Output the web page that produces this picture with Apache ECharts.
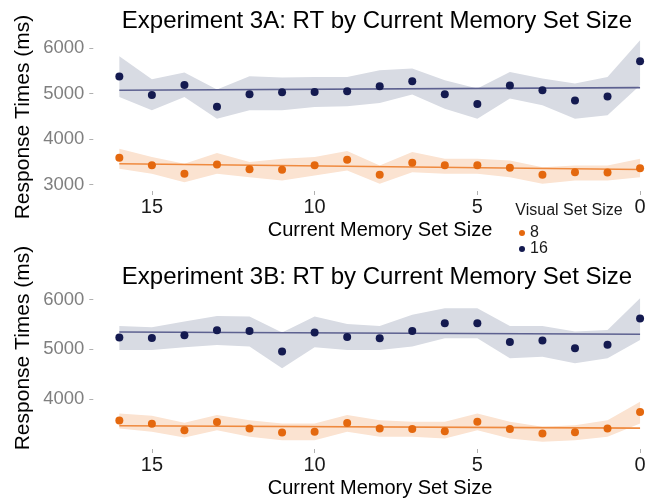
<!DOCTYPE html>
<html>
<head>
<meta charset="utf-8">
<script src="https://cdn.jsdelivr.net/npm/echarts@6/dist/echarts.min.js"></script>
<style>
html,body{margin:0;padding:0;background:#fff;}
#c{width:657px;height:498px;}
</style>
</head>
<body>
<div id="c"></div>
<script>
// Current memory set size (x)
const xs = [16,15,14,13,12,11,10,9,8,7,6,5,4,3,2,1,0];
const xTicks = [0,5,10,15];
const yTicksA = [3000,4000,5000,6000];
const yTicksB = [4000,5000,6000];

// Experiment 3A
const a16   = [5375,4971,5191,4713,4985,5029,5037,5051,5162,5272,4985,4772,5176,5074,4846,4934,5713];
const a16Lo = [4926,4632,4926,4449,4632,4632,4706,4720,4794,4978,4669,4449,4890,4743,4449,4522,5184];
const a16Hi = [5824,5316,5463,5088,5382,5353,5368,5368,5515,5551,5294,5110,5478,5331,5220,5368,6176];
const a16Fit = [5074,5132];
const a8   = [3588,3426,3235,3441,3338,3324,3426,3544,3213,3478,3426,3426,3368,3213,3272,3265,3360];
const a8Lo = [3346,3235,3051,3235,3162,3088,3199,3309,3015,3272,3235,3235,3162,3015,3088,3088,3162];
const a8Hi = [3787,3603,3456,3691,3493,3566,3603,3735,3419,3713,3566,3566,3529,3382,3419,3419,3566];
const a8Fit = [3456,3331];

// Experiment 3B
const b16   = [5236,5229,5283,5384,5370,4953,5337,5249,5222,5370,5525,5525,5148,5175,5020,5094,5620];
const b16Lo = [4987,4987,5040,5088,5054,4616,5040,4987,4987,5054,5222,5222,4818,4852,4717,4818,5189];
const b16Hi = [5471,5444,5559,5673,5660,5337,5660,5512,5471,5694,5828,5828,5471,5471,5357,5391,6030];
const b16Fit = [5350,5303];
const b8   = [3566,3498,3370,3532,3404,3323,3337,3512,3404,3391,3350,3539,3391,3303,3330,3404,3734];
const b8Lo = [3404,3337,3222,3370,3236,3168,3168,3337,3236,3236,3202,3370,3202,3135,3168,3236,3505];
const b8Hi = [3707,3660,3519,3673,3572,3505,3505,3673,3572,3539,3539,3707,3539,3438,3471,3572,3943];
const b8Fit = [3458,3411];
const fitX = [16,0];

const FONT = '"Liberation Sans", Arial, sans-serif';
const C16 = '#141a50', C8 = '#e4680e';
const L16 = '#5d6190', L8 = '#ef8a3f';
const B16 = '#d8dbe3', B8 = '#fbe3d1';

function band(idx, lo, hi, color){
  return {
    type:'custom', xAxisIndex:idx, yAxisIndex:idx, silent:true, z:1,
    data: xs.map((x,i)=>[x, lo[i], hi[i]]),
    encode:{x:0, y:[1,2]},
    renderItem:function(params, api){
      if (params.dataIndex !== 0) return null;
      const pts = [];
      for (let i=0;i<xs.length;i++) pts.push(api.coord([xs[i], hi[i]]));
      for (let i=xs.length-1;i>=0;i--) pts.push(api.coord([xs[i], lo[i]]));
      return {type:'polygon', shape:{points:pts}, style:{fill:color}};
    }
  };
}
function fit(idx, ys, color){
  return {type:'line', xAxisIndex:idx, yAxisIndex:idx, silent:true, z:2, symbol:'none',
    data: fitX.map((x,i)=>[x, ys[i]]), lineStyle:{color:color, width:1.6}};
}
function pts(idx, name, ys, color){
  return {type:'scatter', name:name, xAxisIndex:idx, yAxisIndex:idx, z:3, symbolSize:8,
    data: xs.map((x,i)=>[x, ys[i]]), itemStyle:{color:color, opacity:1}};
}
function xAxis(idx){
  return {type:'value', gridIndex:idx, inverse:true, min:-0.52, max:16.8,
    axisLine:{show:false, onZero:false}, splitLine:{show:false},
    axisTick:{show:true, length:4, lineStyle:{color:'#b0b0b0'}, customValues:xTicks},
    axisLabel:{fontFamily:FONT, fontSize:20, color:'#1a1a1a', margin:6, customValues:xTicks}};
}
function yAxis(idx, mn, mx, ticks){
  return {type:'value', gridIndex:idx, min:mn, max:mx,
    axisLine:{show:false, onZero:false}, splitLine:{show:false},
    axisTick:{show:true, length:4, lineStyle:{color:'#b0b0b0'}, customValues:ticks},
    axisLabel:{fontFamily:FONT, fontSize:18.5, color:'#7f7f7f', margin:9, customValues:ticks,
      formatter:function(v){return String(v);}}};
}
function txt(s, x, y, size, color, rot){
  return {type:'text', x:x, y:y, z:10, rotation:rot||0,
    style:{text:s, font:size+'px '+FONT, fill:color, textAlign:'center', textVerticalAlign:'middle'}};
}

const chart = echarts.init(document.getElementById('c'), null, {renderer:'canvas'});
chart.setOption({
  animation:false,
  backgroundColor:'#fff',
  grid:[
    {left:93.3, top:33, width:563.7, height:158, outerBoundsMode:'none', containLabel:false},
    {left:93.3, top:291, width:563.7, height:158, outerBoundsMode:'none', containLabel:false}
  ],
  xAxis:[xAxis(0), xAxis(1)],
  yAxis:[yAxis(0,2857,6334,yTicksA), yAxis(1,2990,6175,yTicksB)],
  legend:{orient:'vertical', left:514, top:220, itemGap:0, itemWidth:6, itemHeight:6,
    icon:'circle', data:['8','16'], selectedMode:false,
    textStyle:{fontFamily:FONT, fontSize:16, color:'#1a1a1a'}},
  graphic:[
    txt('Experiment 3A: RT by Current Memory Set Size', 377, 21, 24, '#000'),
    txt('Experiment 3B: RT by Current Memory Set Size', 377, 277, 24, '#000'),
    txt('Current Memory Set Size', 380, 230, 20, '#000'),
    txt('Current Memory Set Size', 380, 488, 20, '#000'),
    txt('Response Times (ms)', 23, 117, 21, '#000', Math.PI/2),
    txt('Response Times (ms)', 23, 348, 21, '#000', Math.PI/2),
    txt('Visual Set Size', 569, 211, 16, '#1a1a1a')
  ],
  series:[
    band(0, a16Lo, a16Hi, B16), band(0, a8Lo, a8Hi, B8),
    fit(0, a16Fit, L16), fit(0, a8Fit, L8),
    pts(0, '8', a8, C8), pts(0, '16', a16, C16),
    band(1, b16Lo, b16Hi, B16), band(1, b8Lo, b8Hi, B8),
    fit(1, b16Fit, L16), fit(1, b8Fit, L8),
    pts(1, '8', b8, C8), pts(1, '16', b16, C16)
  ]
});
</script>
</body>
</html>
